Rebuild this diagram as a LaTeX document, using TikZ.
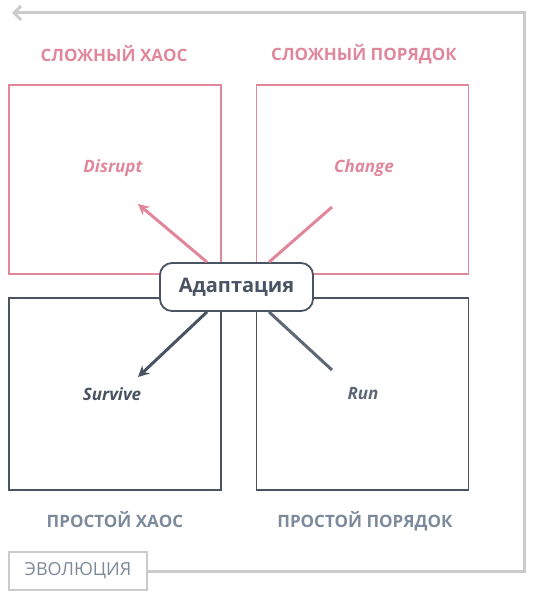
\documentclass[tikz,border=0pt]{standalone}
\usepackage{fontspec}
\setmainfont{Open Sans}
\usetikzlibrary{arrows.meta,calc,positioning}

\definecolor{rose}{HTML}{E0879C}
\definecolor{slate}{HTML}{4A5361}
\definecolor{steel}{HTML}{7D8A9C}
\definecolor{dusk}{HTML}{5E6775}
\definecolor{ash}{HTML}{CBCBCB}

\begin{document}
\begin{tikzpicture}[x=1pt, y=-1pt,
  quad/.style={draw, line width=1.8pt, minimum width=212pt, inner sep=0pt},
  heading/.style={font=\bfseries\fontsize{17}{20}\selectfont},
  tag/.style={font=\bfseries\itshape\fontsize{17}{20}\selectfont},
  ray/.style={line width=3pt}]

\useasboundingbox (0,0) rectangle (537,604);

% Quadrants
\node[quad, rose, minimum height=189pt] (cchaos) at (115,179.5) {};
\node[quad, rose, minimum height=189pt] (corder) at (362.5,179.5) {};
\node[quad, slate, minimum height=192pt] (schaos) at (115,394) {};
\node[quad, slate, minimum height=192pt] (sorder) at (362.5,394) {};

% Headings
\node[heading, rose] at (114,54) {СЛОЖНЫЙ ХАОС};
\node[heading, rose] at (364,54) {СЛОЖНЫЙ ПОРЯДОК};
\node[heading, steel] at (115,520) {ПРОСТОЙ ХАОС};
\node[heading, steel] at (365,521) {ПРОСТОЙ ПОРЯДОК};

% Centre
\node[draw=slate, fill=white, line width=1.8pt, rounded corners=12pt,
      minimum width=153pt, minimum height=48pt, text=slate,
      font=\bfseries\fontsize{20}{24}\selectfont] (adapt) at (236.5,287) {Адаптация};

% Labels in the quadrants
\node[tag, rose] (disrupt) at (113,168) {Disrupt};
\node[tag, rose] (change) at (364,168) {Change};
\node[tag, slate] (survive) at (112,394) {Survive};
\node[tag, dusk] (run) at (363,394) {Run};

% Rays out of the centre
\coordinate (dtip) at (138,204);
\coordinate (ctip) at (332,207);
\coordinate (stip) at (138,377);
\coordinate (rtip) at (332,370);
\draw[ray, rose, -{Stealth[length=11pt, width=11pt]}] ($(adapt.north)+(-29.5,0)$) -- (dtip);
\draw[ray, rose] ($(adapt.north)+(32.5,0)$) -- (ctip);
\draw[ray, slate, -{Stealth[length=11pt, width=11pt]}] ($(adapt.south)+(-29.5,0)$) -- (stip);
\draw[ray, dusk] ($(adapt.south)+(32.5,0)$) -- (rtip);

% Evolution loop
\node[draw=ash, line width=1.8pt, minimum width=138pt, minimum height=38pt,
      text=steel, font=\fontsize{18}{21}\selectfont] (evo) at (78,571) {ЭВОЛЮЦИЯ};
\coordinate (loopend) at (12,13);
\draw[ash, line width=3pt, -{Straight Barb[length=7pt, width=14pt]}]
  (evo.east) -- (524,571) -- (524,13) -- (loopend);

\end{tikzpicture}
\end{document}
